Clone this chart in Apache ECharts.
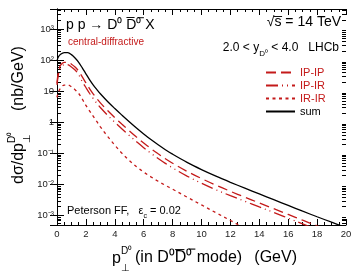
<!DOCTYPE html>
<html>
<head>
<meta charset="utf-8">
<script src="https://cdn.jsdelivr.net/npm/echarts@6.0.0/dist/echarts.min.js"></script>
<style>
html, body { margin: 0; padding: 0; background: #fff; }
#main { width: 355px; height: 273px; }
</style>
</head>
<body>
<div id="main"></div>
<script>
// pT grid (GeV) shared by all curves
var pt = [0, 0.1, 0.25, 0.5, 0.75, 1, 1.25, 1.5, 1.75, 2, 2.25, 2.5, 2.75, 3,
          3.5, 4, 4.5, 5, 5.5, 6, 6.5, 7, 7.5, 8,
          9, 10, 11, 12, 13, 14, 15, 16, 17, 18, 19, 20];

// dsigma/dpT in nb/GeV
var sumVals  = [95, 128, 155, 175, 174, 150, 117, 85, 56.2, 36.3, 23.7, 16.1, 11.4, 8.26,
                4.66, 2.77, 1.69, 1.045, 0.658, 0.423, 0.279, 0.19, 0.132, 0.0946,
                0.0516, 0.0303, 0.0186, 0.0118, 0.00764, 0.00499, 0.00326, 0.00213, 0.00139, 0.00092, 0.000614, 0.000414];
var ipipVals = [18, 42, 69, 85, 85, 74, 60, 44, 28.8, 18.6, 12.2, 8.28, 5.83, 4.24,
                2.39, 1.42, 0.865, 0.536, 0.337, 0.217, 0.143, 0.0973, 0.0678, 0.0485,
                0.0265, 0.0156, 0.00955, 0.00605, 0.00392, 0.00256, 0.00167, 0.00109, 0.000713, 0.000471, 0.000315, 0.000212];
var ipirVals = [16, 35, 58, 71, 71, 60, 48, 34, 20.4, 13.2, 8.61, 5.86, 4.13, 3.0,
                1.69, 1.005, 0.612, 0.379, 0.239, 0.153, 0.101, 0.0689, 0.048, 0.0344,
                0.0187, 0.011, 0.00676, 0.00439, 0.0029, 0.0019, 0.00127, 0.000828, 0.000541, 0.000357, 0.00024, 0.000162];
var irirVals = [6.3, 9.5, 12.6, 15.8, 15.8, 13.8, 11.2, 8.5, 5.6, 3.5, 2.35, 1.58, 1.07, 0.72,
                0.355, 0.184, 0.101, 0.0596, 0.0376, 0.0251, 0.0176, 0.0127, 0.00944, 0.00708,
                0.00394, 0.00221, 0.00124, 0.0007, 0.00039, 0.00022, 0.00012, 0.00007, 0.00004, 0.00002, 0.00001, 0.000006];

// axis ranges and tick labels
var xMin = 0, xMax = 20, xStep = 2;
var yMin = 5e-4, yMax = 4.4e3;
var yTickExp  = [-3, -2, -1, 0, 1, 2, 3];
var yTickText = ['10⁻³', '10⁻²', '10⁻¹', '1', '10', '10²', '10³'];

var red = '#c41a1a';
var font = "'Liberation Sans', Arial, Helvetica, sans-serif";

function pairs(vals) {
    return pt.map(function (x, i) { return [x, vals[i]]; });
}

// log minor ticks 2..9 x 10^k
var yMinor = [];
for (var k = -4; k <= 3; k++) {
    for (var m = 2; m <= 9; m++) {
        var v = m * Math.pow(10, k);
        if (v > yMin && v < yMax) yMinor.push([xMin, v]);
    }
}

var myChart = echarts.init(document.getElementById('main'));

var xAxisBase = {
    type: 'value', min: xMin, max: xMax, interval: xStep,
    axisLine: { lineStyle: { color: '#000', width: 1 } },
    axisTick: { inside: true, length: 6, lineStyle: { color: '#000' } },
    minorTick: { show: true, splitNumber: 4, length: 3, lineStyle: { color: '#000' } },
    splitLine: { show: false }
};
var yAxisBase = {
    type: 'log', logBase: 10, min: yMin, max: yMax,
    axisLine: { show: true, lineStyle: { color: '#000', width: 1 } },
    axisTick: { inside: true, length: 7, lineStyle: { color: '#000' } },
    splitLine: { show: false }
};

function curve(name, vals, color, dash) {
    return {
        name: name, type: 'line', data: pairs(vals), symbol: 'none',
        smooth: 0.35, color: color,
        lineStyle: { color: color, width: 1.3, type: dash }
    };
}

option = {
    animation: false,
    backgroundColor: '#fff',
    grid: { left: 57, right: 9, top: 9, bottom: 48 },
    xAxis: [
        Object.assign({}, xAxisBase, {
            position: 'bottom',
            axisLabel: { fontSize: 9.5, color: '#222', fontFamily: font, margin: 4 }
        }),
        Object.assign({}, xAxisBase, { position: 'top', axisLabel: { show: false } })
    ],
    yAxis: [
        Object.assign({}, yAxisBase, {
            position: 'left',
            axisLabel: {
                fontSize: 9.5, color: '#222', fontFamily: font, margin: 3,
                formatter: function (val) {
                    var e = Math.log10(val);
                    var r = Math.round(e);
                    if (Math.abs(e - r) > 1e-6) return '';
                    var i = yTickExp.indexOf(r);
                    return i < 0 ? '' : yTickText[i];
                }
            }
        }),
        Object.assign({}, yAxisBase, { position: 'right', axisLabel: { show: false } })
    ],
    legend: {
        orient: 'vertical', left: 260, top: 61,
        itemWidth: 29, itemHeight: 10, itemGap: 0,
        selectedMode: false,
        itemStyle: { opacity: 0, borderWidth: 0 },
        textStyle: { fontSize: 11, fontFamily: font, lineHeight: 13 },
        data: [
            { name: 'IP-IP', textStyle: { color: red } },
            { name: 'IP-IR', textStyle: { color: red } },
            { name: 'IR-IR', textStyle: { color: red } },
            { name: 'sum', textStyle: { color: '#000' } }
        ]
    },
    series: [
        curve('IP-IP', ipipVals, red, [10, 5]),
        curve('IP-IR', ipirVals, red, [12, 4, 1, 4, 1, 4]),
        curve('IR-IR', irirVals, red, [3, 3.5]),
        curve('sum', sumVals, '#000', 'solid'),
        {
            name: 'yminor', type: 'custom', data: yMinor, silent: true, clip: false,
            renderItem: function (params, api) {
                var v = api.value(1);
                var l = api.coord([xMin, v]);
                var r = api.coord([xMax, v]);
                var y = Math.round(l[1]) + 0.5;
                var st = { stroke: '#000', lineWidth: 1 };
                return {
                    type: 'group',
                    children: [
                        { type: 'line', shape: { x1: l[0], y1: y, x2: l[0] + 4, y2: y }, style: st },
                        { type: 'line', shape: { x1: r[0], y1: y, x2: r[0] - 4, y2: y }, style: st }
                    ]
                };
            }
        }
    ],
    graphic: [
        { type: 'text', x: 66, y: 25, style: { text: 'p p → D⁰ D̅⁰̅ X', fill: '#000', font: '14px ' + font, align: 'left', verticalAlign: 'middle', textAlign: 'left', textVerticalAlign: 'middle' } },
        { type: 'text', x: 68, y: 42, style: { text: 'central-diffractive', fill: red, font: '10px ' + font, align: 'left', verticalAlign: 'middle', textAlign: 'left', textVerticalAlign: 'middle' } },
        { type: 'text', x: 341, y: 22, style: { text: '√s̅ = 14 TeV', fill: '#000', font: '14px ' + font, align: 'right', verticalAlign: 'middle', textAlign: 'right', textVerticalAlign: 'middle' } },
        {
            type: 'text', x: 339, y: 48,
            style: {
                text: '{t|2.0 < y}{s|D⁰}{t| < 4.0   LHCb}', fill: '#000', align: 'right', verticalAlign: 'middle', textAlign: 'right', textVerticalAlign: 'middle',
                rich: {
                    t: { fontSize: 12, fontFamily: font, lineHeight: 20, verticalAlign: 'middle' },
                    s: { fontSize: 8, fontFamily: font, lineHeight: 8, verticalAlign: 'bottom' }
                }
            }
        },
        {
            type: 'text', x: 67, y: 211,
            style: {
                text: '{t|Peterson FF,   ε}{s|c}{t| = 0.02}', fill: '#000', align: 'left', verticalAlign: 'middle', textAlign: 'left', textVerticalAlign: 'middle',
                rich: {
                    t: { fontSize: 11, fontFamily: font, lineHeight: 18, verticalAlign: 'middle' },
                    s: { fontSize: 7, fontFamily: font, lineHeight: 7, verticalAlign: 'bottom' }
                }
            }
        },
        // x axis title
        { type: 'text', x: 112, y: 259, style: { text: 'p', fill: '#000', font: '16px ' + font, align: 'left', verticalAlign: 'middle', textAlign: 'left', textVerticalAlign: 'middle' } },
        { type: 'text', x: 121, y: 251, style: { text: 'D⁰', fill: '#000', font: '10px ' + font, align: 'left', verticalAlign: 'middle', textAlign: 'left', textVerticalAlign: 'middle' } },
        { type: 'text', x: 121, y: 268, style: { text: '⊥', fill: '#000', font: '10px ' + font, align: 'left', verticalAlign: 'middle', textAlign: 'left', textVerticalAlign: 'middle' } },
        { type: 'text', x: 135, y: 258, style: { text: '(in D⁰D̅⁰̅ mode)', fill: '#000', font: '16px ' + font, align: 'left', verticalAlign: 'middle', textAlign: 'left', textVerticalAlign: 'middle' } },
        { type: 'text', x: 297, y: 258, style: { text: '(GeV)', fill: '#000', font: '16px ' + font, align: 'right', verticalAlign: 'middle', textAlign: 'right', textVerticalAlign: 'middle' } },
        // y axis title (rotated)
        {
            type: 'group', x: 19, y: 184, rotation: Math.PI / 2,
            children: [
                { type: 'text', x: 0, y: 0, style: { text: 'dσ/dp', fill: '#000', font: '16px ' + font, align: 'left', verticalAlign: 'middle', textAlign: 'left', textVerticalAlign: 'middle' } },
                { type: 'text', x: 41, y: -7, style: { text: 'D⁰', fill: '#000', font: '10px ' + font, align: 'left', verticalAlign: 'middle', textAlign: 'left', textVerticalAlign: 'middle' } },
                { type: 'text', x: 41, y: 8, style: { text: '⊥', fill: '#000', font: '10px ' + font, align: 'left', verticalAlign: 'middle', textAlign: 'left', textVerticalAlign: 'middle' } },
                { type: 'text', x: 73, y: 0, style: { text: '(nb/GeV)', fill: '#000', font: '16px ' + font, align: 'left', verticalAlign: 'middle', textAlign: 'left', textVerticalAlign: 'middle' } }
            ]
        }
    ]
};
myChart.setOption(option);
</script>
</body>
</html>
